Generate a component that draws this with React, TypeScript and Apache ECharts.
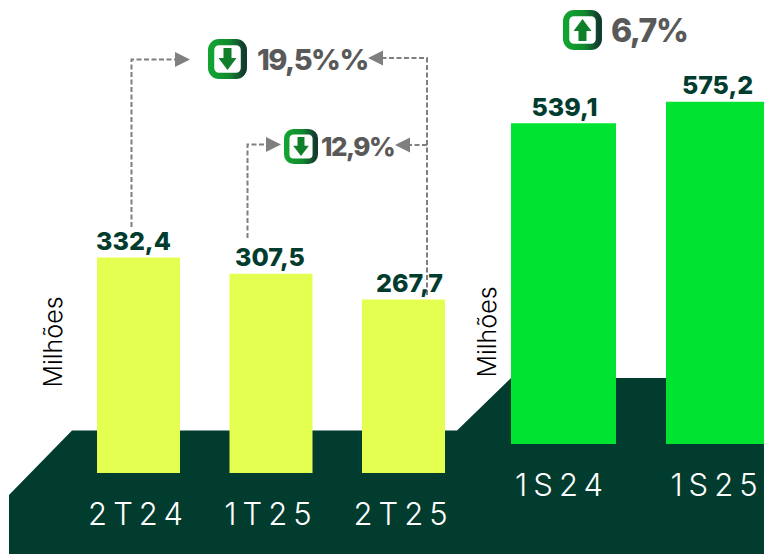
import React, { useEffect, useRef } from "react";
import * as echarts from "echarts";

const quarterLabels = ["2T24", "1T25", "2T25"];
const quarterValues = [332.4, 307.5, 267.7];
const semesterLabels = ["1S24", "1S25"];
const semesterValues = [539.1, 575.2];
const unitLabel = "Milhões";
const quarterLabelNudges = [-5, -1, 6];
const semesterLabelNudges = [1, -1];

const DARK = "#013c2e";
const GREY = "#7f7f7f";
const TEXT_GREY = "#595959";
const FONT = "Inter, 'Open Sans', sans-serif";

const fmt = (v: number) => v.toFixed(1).replace(".", ",");

function icon(x: number, y: number, w: number, h: number, up: boolean) {
  const sw = w * 0.16;
  const cx = x + w / 2;
  const cy = y + h / 2;
  const k = w / 39;
  const s = up ? -1 : 1;
  const pts = [
    [-4, -11],
    [4, -11],
    [4, -1],
    [9, -1],
    [0, 11],
    [-9, -1],
    [-4, -1],
  ].map(([a, b]) => [cx + a * k, cy + s * b * k]);
  return [
    {
      type: "rect",
      z: 5,
      shape: { x: x + sw / 2, y: y + sw / 2, width: w - sw, height: h - sw, r: w * 0.2 },
      style: {
        fill: "#fff",
        lineWidth: sw,
        stroke: new echarts.graphic.LinearGradient(0, 0, 1, 0, [
          { offset: 0, color: "#12a331" },
          { offset: 0.55, color: "#118a2e" },
          { offset: 1, color: "#123c2e" },
        ]),
      },
    },
    { type: "polygon", z: 6, shape: { points: pts }, style: { fill: "#0f7f2a" } },
  ];
}

function dashed(points: number[][]) {
  return {
    type: "polyline",
    z: 1,
    shape: { points },
    style: { stroke: GREY, lineWidth: 2, lineDash: [5, 2.5], fill: "none" },
  };
}

function arrow(tipX: number, y: number, dir: 1 | -1) {
  return {
    type: "polygon",
    z: 4,
    shape: {
      points: [
        [tipX, y],
        [tipX - dir * 15, y - 7.5],
        [tipX - dir * 15, y + 7.5],
      ],
    },
    style: { fill: GREY },
  };
}

function pct(text: string, x: number, y: number, size: number) {
  return {
    type: "text",
    z: 6,
    x,
    y,
    style: {
      text,
      fill: TEXT_GREY,
      font: `800 ${size}px ${FONT}`,
      textAlign: "left",
      textVerticalAlign: "middle",
    },
  };
}

function unit(x: number, y: number) {
  return {
    type: "text",
    z: 6,
    x,
    y,
    rotation: Math.PI / 2,
    style: {
      text: unitLabel,
      fill: "#000",
      font: `300 25px ${FONT}`,
      textAlign: "center",
      textVerticalAlign: "middle",
    },
  };
}

function axisPair(gridIndex: number, data: string[], max: number, rightPad: number) {
  return {
    x: {
      type: "category",
      gridIndex,
      data,
      axisLine: { show: false },
      axisTick: { show: false },
      axisLabel: {
        color: "#fff",
        fontFamily: FONT,
        fontWeight: 300,
        fontSize: 31,
        margin: 25,
        interval: 0,
        padding: [0, rightPad, 0, 0],
      },
    },
    y: {
      type: "value",
      gridIndex,
      min: 0,
      max,
      interval: max,
      axisLine: { show: false },
      axisTick: { show: false },
      axisLabel: { show: false },
      splitLine: { show: false },
    },
  };
}

function bars(index: number, values: number[], nudges: number[], color: string, width: number) {
  return {
    type: "bar",
    xAxisIndex: index,
    yAxisIndex: index,
    barWidth: width,
    itemStyle: { color },
    z: 3,
    data: values.map((value, i) => ({
      value,
      label: { offset: [nudges[i], 0] },
    })),
    label: {
      show: true,
      position: "top",
      distance: 4,
      color: DARK,
      fontFamily: FONT,
      fontWeight: 800,
      fontSize: 25,
      formatter: (p: any) => fmt(p.value),
    },
  };
}

export default function App() {
  const ref = useRef<HTMLDivElement>(null);
  useEffect(() => {
    document.body.style.margin = "0";
    const chart = echarts.init(ref.current!, undefined, { renderer: "svg" });
    const left = axisPair(0, quarterLabels, 400, 0);
    const right = axisPair(1, semesterLabels, 600, 3);
    chart.setOption({
      animation: false,
      backgroundColor: "#fff",
      grid: [
        { left: 72.25, top: 473 - 259.2, width: 397.5, height: 259.2, outerBoundsMode: "none" },
        { left: 486, top: 444 - 357, width: 310, height: 357, outerBoundsMode: "none" },
      ],
      xAxis: [left.x, right.x],
      yAxis: [left.y, right.y],
      series: [
        bars(0, quarterValues, quarterLabelNudges, "#e4ff4f", 83),
        bars(1, semesterValues, semesterLabelNudges, "#00e431", 105),
      ],
      graphic: {
        elements: [
          {
            type: "polygon",
            z: 0,
            silent: true,
            shape: {
              points: [
                [9, 495],
                [72, 430.5],
                [457, 430.5],
                [511, 378],
                [764, 378],
                [764, 554],
                [9, 554],
              ],
            },
            style: { fill: DARK },
          },
          dashed([[131.5, 227], [131.5, 59.5], [176, 59.5]]),
          arrow(190, 59.5, 1),
          dashed([[427, 295], [427, 58], [383, 58]]),
          arrow(368, 58, -1),
          dashed([[247.5, 238], [247.5, 144.5], [266, 144.5]]),
          arrow(281, 144.5, 1),
          dashed([[427, 145], [410, 145]]),
          arrow(395, 145, -1),
          ...icon(208, 39, 39, 40, false),
          ...icon(284, 129, 34, 35, false),
          ...icon(563, 10, 39, 40, true),
          pct("19,5%%", 257, 59, 29),
          pct("12,9%", 321, 146, 26),
          pct("6,7%", 611, 30, 32),
          unit(53, 342),
          unit(487, 332),
        ],
      },
    });
    return () => chart.dispose();
  }, []);
  return (
    <>
      <style>{`#bars text[fill="#fff"]{letter-spacing:6px}#bars text[fill="${TEXT_GREY}"]{letter-spacing:-1.5px}`}</style>
      <div id="bars" ref={ref} style={{ width: 764, height: 554, overflow: "hidden" }} />
    </>
  );
}
